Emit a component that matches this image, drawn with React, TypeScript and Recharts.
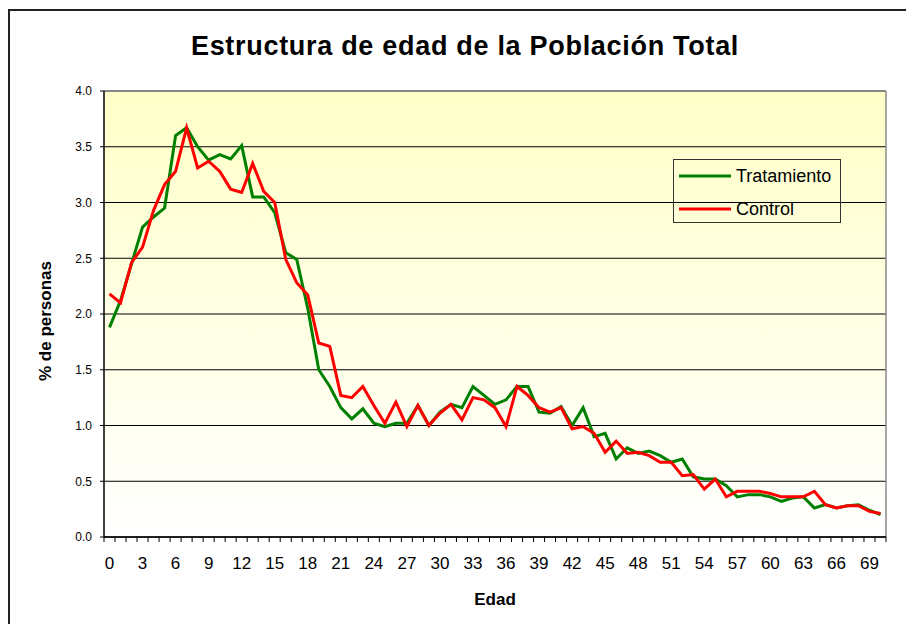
import React from "react";
import {
  LineChart,
  Line,
  XAxis,
  YAxis,
  CartesianGrid,
  Legend,
  ReferenceLine,
} from "recharts";

const ages = [
  0, 1, 2, 3, 4, 5, 6, 7, 8, 9, 10, 11, 12, 13, 14, 15, 16, 17, 18, 19, 20,
  21, 22, 23, 24, 25, 26, 27, 28, 29, 30, 31, 32, 33, 34, 35, 36, 37, 38, 39,
  40, 41, 42, 43, 44, 45, 46, 47, 48, 49, 50, 51, 52, 53, 54, 55, 56, 57, 58,
  59, 60, 61, 62, 63, 64, 65, 66, 67, 68, 69, 70,
];

const tratamiento = [
  1.88, 2.12, 2.45, 2.78, 2.87, 2.95, 3.6, 3.67, 3.5, 3.38,
  3.43, 3.39, 3.51, 3.05, 3.05, 2.91, 2.55, 2.49, 2.05, 1.5,
  1.35, 1.16, 1.06, 1.15, 1.02, 0.99, 1.02, 1.02, 1.18, 1.0,
  1.12, 1.19, 1.16, 1.35, 1.27, 1.19, 1.23, 1.35, 1.35, 1.12,
  1.11, 1.17, 1.0, 1.16, 0.9, 0.93, 0.7, 0.8, 0.75, 0.77,
  0.73, 0.67, 0.7, 0.54, 0.52, 0.52, 0.46, 0.36, 0.38, 0.38,
  0.36, 0.32, 0.35, 0.36, 0.26, 0.29, 0.26, 0.28, 0.29, 0.24,
  0.2,
];

const control = [
  2.18, 2.1, 2.46, 2.6, 2.93, 3.16, 3.28, 3.67, 3.31, 3.37,
  3.28, 3.12, 3.09, 3.35, 3.1, 3.0, 2.49, 2.28, 2.17, 1.74,
  1.71, 1.27, 1.25, 1.35, 1.18, 1.02, 1.21, 0.99, 1.18, 1.0,
  1.11, 1.19, 1.05, 1.25, 1.23, 1.16, 0.99, 1.35, 1.27, 1.16,
  1.12, 1.16, 0.97, 0.99, 0.93, 0.76, 0.86, 0.75, 0.76, 0.73,
  0.67, 0.67, 0.55, 0.56, 0.43, 0.52, 0.36, 0.41, 0.41, 0.41,
  0.39, 0.36, 0.36, 0.36, 0.41, 0.29, 0.26, 0.28, 0.28, 0.23,
  0.21,
];

const xTickLabels = [
  0, 3, 6, 9, 12, 15, 18, 21, 24, 27, 30, 33, 36, 39, 42, 45, 48, 51, 54, 57,
  60, 63, 66, 69,
];

const yTicks = [0, 0.5, 1, 1.5, 2, 2.5, 3, 3.5, 4];

const seriesNames = ["Tratamiento", "Control"];
const seriesColors = ["#008000", "#FF0000"];

const data = ages.map((a, i) => ({
  age: a,
  Tratamiento: tratamiento[i],
  Control: control[i],
}));

const minorTicks = ages.map((a) => a - 0.5).concat([ages[ages.length - 1] + 0.5]);
const xDomain: [number, number] = [minorTicks[0], minorTicks[minorTicks.length - 1]];

const FONT = "'Liberation Sans', Arial, Helvetica, sans-serif";

const renderLegend = () => {
  return (
    <div
      style={{
        width: 166,
        height: 62,
        border: "1px solid #333",
        boxSizing: "content-box",
        fontFamily: FONT,
        fontSize: 18,
        color: "#000",
        position: "relative",
      }}
    >
      {seriesNames.map((name, i) => (
        <div
          key={name}
          style={{
            position: "absolute",
            left: 5,
            top: 5 + i * 33,
            height: 22,
            display: "flex",
            alignItems: "center",
          }}
        >
          <svg width={52} height={6} style={{ display: "block" }}>
            <line x1={0} y1={3} x2={52} y2={3} stroke={seriesColors[i]} strokeWidth={3} />
          </svg>
          <span style={{ marginLeft: 5, lineHeight: "22px" }}>{name}</span>
        </div>
      ))}
    </div>
  );
};

export default function App() {
  return (
    <div
      style={{
        position: "absolute",
        left: 0,
        top: 0,
        width: 906,
        height: 624,
        overflow: "hidden",
        background: "#fff",
      }}
    >
      <div
        style={{
          position: "absolute",
          left: 8,
          top: 9,
          width: 1000,
          height: 1000,
          border: "2px solid #222",
        }}
      />
      <div style={{ position: "absolute", left: 0, top: 0 }}>
        <LineChart
          width={906}
          height={624}
          data={data}
          margin={{ top: 91, right: 20, bottom: 57, left: 44 }}
        >
          <defs>
            <linearGradient id="plotBg" x1="0" y1="0" x2="0" y2="1">
              <stop offset="0%" stopColor="#FFFFC8" />
              <stop offset="100%" stopColor="#FFFFFF" />
            </linearGradient>
          </defs>
          <CartesianGrid
            vertical={false}
            stroke="#000"
            strokeWidth={1}
            fill="url(#plotBg)"
            fillOpacity={1}
          />
          <XAxis
            xAxisId="axis1"
            type="number"
            dataKey="age"
            domain={xDomain}
            ticks={xTickLabels}
            interval={0}
            height={29}
            tickLine={false}
            axisLine={false}
            tickSize={0}
            tickMargin={19}
            tick={{ fill: "#000", fontSize: 17, fontFamily: FONT }}
            allowDataOverflow
          />
          <XAxis
            xAxisId="axis0"
            type="number"
            dataKey="age"
            domain={xDomain}
            ticks={minorTicks}
            interval={0}
            height={1}
            tick={() => <g />}
            tickSize={5}
            tickLine={{ stroke: "#000" }}
            axisLine={{ stroke: "#000", strokeWidth: 1.5 }}
            allowDataOverflow
          />
          <YAxis
            type="number"
            domain={[0, 4]}
            ticks={yTicks}
            interval={0}
            width={60}
            tickFormatter={(v: number) => v.toFixed(1)}
            tickSize={4}
            tickMargin={8}
            tickLine={{ stroke: "#000" }}
            axisLine={{ stroke: "#000", strokeWidth: 1.5 }}
            tick={{ fill: "#000", fontSize: 12, fontFamily: FONT }}
          />
          <ReferenceLine xAxisId="axis1" y={4} stroke="#8a8a8a" strokeWidth={1.5} />
          <ReferenceLine xAxisId="axis1" x={xDomain[1]} stroke="#8a8a8a" strokeWidth={1.5} />
          <Line
            xAxisId="axis0"
            type="linear"
            dataKey={seriesNames[0]}
            stroke="none"
            strokeWidth={0}
            dot={false}
            activeDot={false}
            legendType="none"
            isAnimationActive={false}
          />
          <Line
            xAxisId="axis1"
            type="linear"
            dataKey={seriesNames[0]}
            name={seriesNames[0]}
            stroke={seriesColors[0]}
            strokeWidth={3}
            dot={false}
            activeDot={false}
            isAnimationActive={false}
          />
          <Line
            xAxisId="axis1"
            type="linear"
            dataKey={seriesNames[1]}
            name={seriesNames[1]}
            stroke={seriesColors[1]}
            strokeWidth={3}
            dot={false}
            activeDot={false}
            isAnimationActive={false}
          />
          <Legend
            layout="horizontal"
            align="center"
            verticalAlign="middle"
            content={renderLegend}
            wrapperStyle={{ left: 673, top: 159, width: 168, height: 64 }}
          />
        </LineChart>
      </div>
      <div
        style={{
          position: "absolute",
          left: 9,
          width: 912,
          top: 30,
          textAlign: "center",
          fontFamily: FONT,
          fontWeight: "bold",
          fontSize: 27,
          letterSpacing: 0.7,
          lineHeight: "32px",
          color: "#000",
          whiteSpace: "nowrap",
        }}
      >
        Estructura de edad de la Población Total
      </div>
      <div
        style={{
          position: "absolute",
          left: 395,
          width: 200,
          top: 589,
          textAlign: "center",
          fontFamily: FONT,
          fontWeight: "bold",
          fontSize: 17,
          lineHeight: "22px",
          color: "#000",
        }}
      >
        Edad
      </div>
      <div
        style={{
          position: "absolute",
          left: 46 - 100,
          top: 321 - 11,
          width: 200,
          height: 22,
          textAlign: "center",
          fontFamily: FONT,
          fontWeight: "bold",
          fontSize: 17,
          lineHeight: "22px",
          color: "#000",
          transform: "rotate(-90deg)",
          whiteSpace: "nowrap",
        }}
      >
        % de personas
      </div>
    </div>
  );
}
